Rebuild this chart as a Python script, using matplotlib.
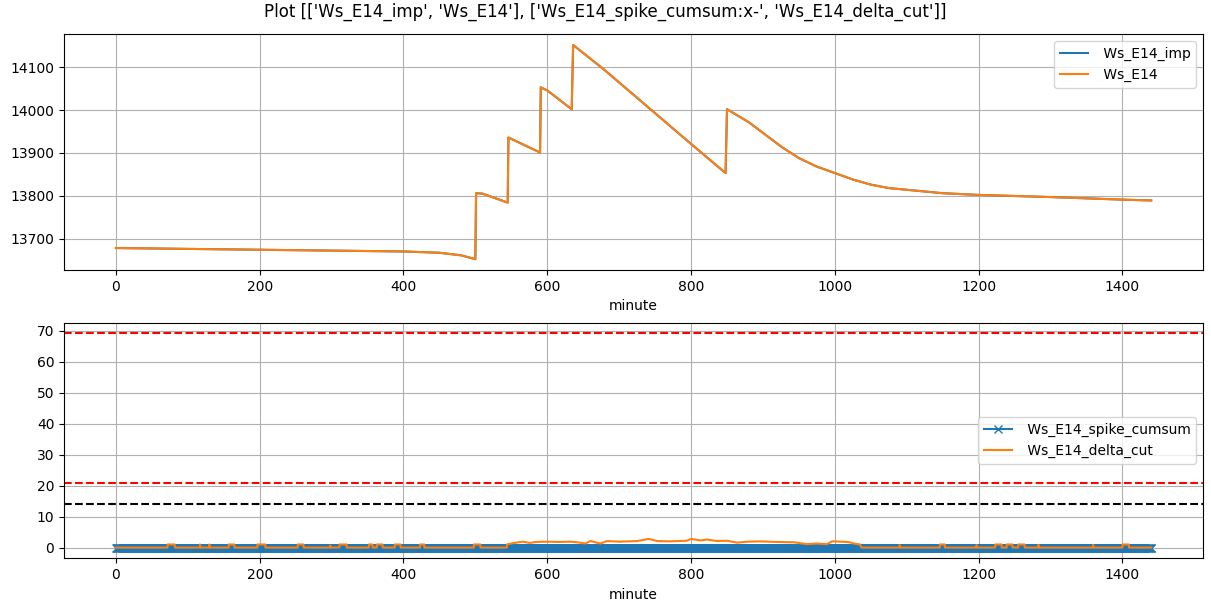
import numpy as np
import matplotlib
matplotlib.use("Agg")
import matplotlib.pyplot as plt

# Ws_E14 at breakpoints (minute, value)
ws_minute = [0, 100, 200, 300, 400, 450, 480, 500,
             501, 510, 545,
             546, 590,
             591, 600, 634,
             636, 678, 738, 800, 848,
             850, 880, 926, 950, 975, 1000, 1025, 1050, 1075, 1100,
             1150, 1200, 1300, 1400, 1440]
ws_value = [13678, 13676, 13674, 13672, 13670, 13667, 13661, 13652,
            13806, 13805, 13784,
            13936, 13901,
            14053, 14046, 14002,
            14152, 14096, 14010, 13921, 13853,
            14002, 13972, 13914, 13888, 13868, 13853, 13838, 13826, 13818, 13814,
            13806, 13802, 13797, 13791, 13789]

# Ws_E14_spike_cumsum is 0 every minute
minutes = np.arange(0, 1441)
spike_cumsum = np.zeros(len(minutes))

# Ws_E14_delta_cut (minute, value)
dc_minute = [0, 72, 72, 82, 82, 117, 117, 118, 130, 130, 131, 157, 157, 165, 165,
             197, 197, 208, 208, 253, 253, 261, 261, 298, 298, 299,
             311, 311, 321, 321, 352, 352, 357, 357, 363, 363, 371, 371,
             388, 388, 396, 396, 423, 423, 429, 429, 498, 498, 507, 507,
             544, 544, 552, 560, 565, 576, 584, 600, 616, 632, 645, 653, 660,
             674, 683, 700, 725, 741, 753, 770, 794, 800, 813, 822, 836, 850,
             864, 880, 896, 920, 943, 961, 975, 989, 996, 1010, 1021, 1026,
             1035, 1037, 1090, 1090, 1091, 1146, 1146, 1153, 1153,
             1197, 1197, 1198, 1223, 1223, 1232, 1232, 1239, 1239, 1247, 1247,
             1255, 1255, 1264, 1264, 1283, 1283, 1284, 1359, 1359, 1360,
             1400, 1400, 1409, 1409, 1440]
dc_value = [0, 0, 1, 1, 0, 0, 1, 0, 0, 1, 0, 0, 1, 1, 0,
            0, 1, 1, 0, 0, 1, 1, 0, 0, 0.7, 0,
            0, 1, 1, 0, 0, 1, 1, 0, 0, 1, 1, 0,
            0, 1, 1, 0, 0, 1, 1, 0, 0, 1, 1, 0,
            0, 1, 1.4, 1.7, 1.9, 1.5, 1.8, 1.9, 1.8, 1.9, 1.6, 1.3, 2.1,
            1.3, 2.1, 1.9, 2.1, 2.8, 2.1, 2.0, 2.2, 2.8, 2.3, 2.6, 2.1, 2.2,
            1.6, 1.9, 2.0, 1.8, 1.7, 1.1, 1.3, 1.1, 2.0, 1.9, 1.7, 1.3,
            1.0, 0, 0, 0.8, 0, 0, 1, 1, 0,
            0, 0.8, 0, 0, 1, 1, 0, 0, 1, 1, 0,
            0, 1, 1, 0, 0, 0.9, 0, 0, 0.9, 0,
            0, 1, 1, 0, 0]

# thresholds
red_hi = 69.2
red_lo = 20.7
black_lvl = 14.0

fig, (ax1, ax2) = plt.subplots(2, 1, figsize=(12.11, 6.11), dpi=100)
fig.subplots_adjust(left=0.0529, right=0.9934, top=0.9439, bottom=0.0863,
                    hspace=0.224)
fig.suptitle("Plot [['Ws_E14_imp', 'Ws_E14'], ['Ws_E14_spike_cumsum:x-', 'Ws_E14_delta_cut']]",
             y=0.9804, va="center")

ax1.plot(ws_minute, ws_value, label=" Ws_E14_imp")
ax1.plot(ws_minute, ws_value, label=" Ws_E14")
ax1.set_xlabel("minute")
ax1.grid(True)
ax1.legend(loc="upper right")

ax2.plot(minutes, spike_cumsum, "x-", label=" Ws_E14_spike_cumsum")
ax2.plot(dc_minute, dc_value, label=" Ws_E14_delta_cut")
ax2.axhline(red_hi, color="red", linestyle="--")
ax2.axhline(red_lo, color="red", linestyle="--")
ax2.axhline(black_lvl, color="black", linestyle="--")
ax2.set_xlabel("minute")
ax2.grid(True)
ax2.legend(loc="center right")

fig.savefig("out.png")
